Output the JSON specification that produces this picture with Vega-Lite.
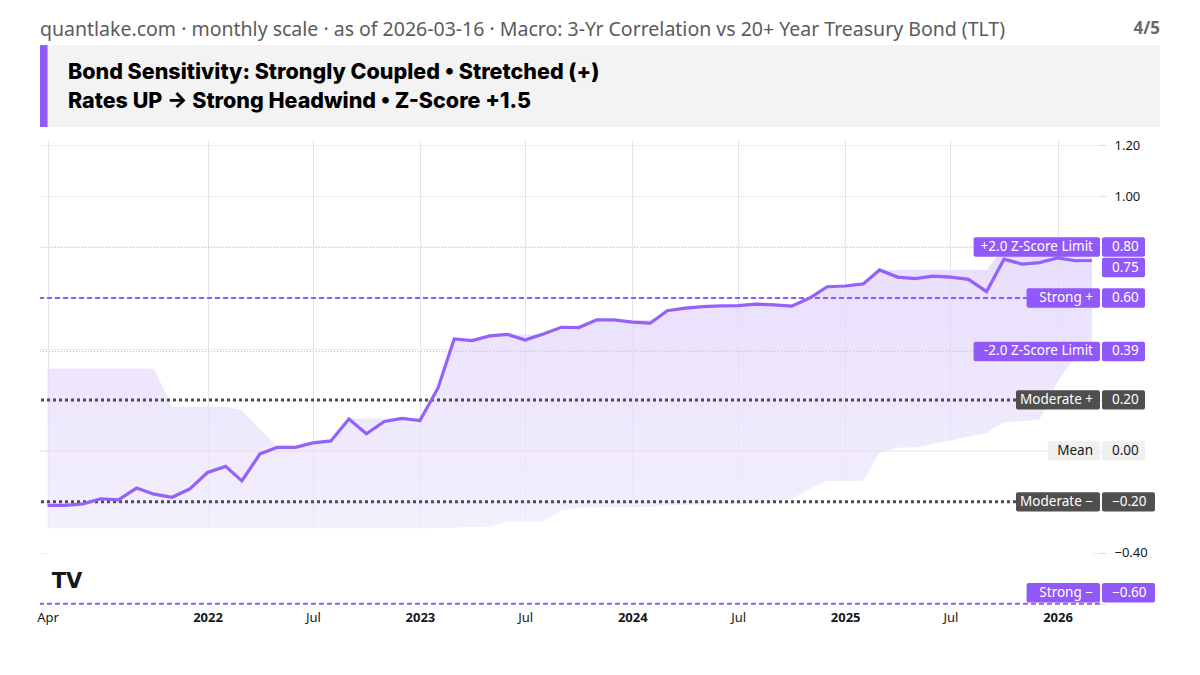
{
  "$schema": "https://vega.github.io/schema/vega-lite/v6.json",
  "width": 1060,
  "height": 465,
  "autosize": {"type": "none"},
  "padding": {"left": 40, "top": 140, "right": 100, "bottom": 70},
  "background": "#ffffff",
  "config": {"view": {"stroke": null}, "font": "Noto Sans"},
  "datasets": {
    "levels": [
      {"label": "+2.0 Z-Score Limit", "v": 0.80, "kind": "zlimit"},
      {"label": "Strong +", "v": 0.60, "kind": "strong"},
      {"label": "-2.0 Z-Score Limit", "v": 0.39, "kind": "zlimit"},
      {"label": "Moderate +", "v": 0.20, "kind": "moderate"},
      {"label": "Mean", "v": 0.00, "kind": "mean"},
      {"label": "Moderate −", "v": -0.20, "kind": "moderate"},
      {"label": "Strong −", "v": -0.60, "kind": "strong"}
    ]
  },
  "data": {
    "values": [
      {"d": "2021-04-01", "c": -0.214, "hi": 0.322, "lo": -0.305},
      {"d": "2021-05-01", "c": -0.214, "hi": 0.322, "lo": -0.305},
      {"d": "2021-06-01", "c": -0.208, "hi": 0.322, "lo": -0.305},
      {"d": "2021-07-01", "c": -0.188, "hi": 0.322, "lo": -0.305},
      {"d": "2021-08-01", "c": -0.192, "hi": 0.322, "lo": -0.305},
      {"d": "2021-09-01", "c": -0.146, "hi": 0.322, "lo": -0.305},
      {"d": "2021-10-01", "c": -0.170, "hi": 0.322, "lo": -0.305},
      {"d": "2021-11-01", "c": -0.182, "hi": 0.173, "lo": -0.305},
      {"d": "2021-12-01", "c": -0.150, "hi": 0.173, "lo": -0.305},
      {"d": "2022-01-01", "c": -0.085, "hi": 0.173, "lo": -0.305},
      {"d": "2022-02-01", "c": -0.061, "hi": 0.173, "lo": -0.305},
      {"d": "2022-03-01", "c": -0.118, "hi": 0.159, "lo": -0.305},
      {"d": "2022-04-01", "c": -0.012, "hi": 0.085, "lo": -0.305},
      {"d": "2022-05-01", "c": 0.014, "hi": 0.016, "lo": -0.305},
      {"d": "2022-06-01", "c": 0.014, "hi": 0.016, "lo": -0.305},
      {"d": "2022-07-01", "c": 0.031, "hi": 0.031, "lo": -0.305},
      {"d": "2022-08-01", "c": 0.039, "hi": 0.039, "lo": -0.305},
      {"d": "2022-09-01", "c": 0.125, "hi": 0.127, "lo": -0.305},
      {"d": "2022-10-01", "c": 0.067, "hi": 0.127, "lo": -0.305},
      {"d": "2022-11-01", "c": 0.115, "hi": 0.127, "lo": -0.305},
      {"d": "2022-12-01", "c": 0.127, "hi": 0.127, "lo": -0.305},
      {"d": "2023-01-01", "c": 0.119, "hi": 0.127, "lo": -0.305},
      {"d": "2023-02-01", "c": 0.246, "hi": 0.246, "lo": -0.304},
      {"d": "2023-03-01", "c": 0.439, "hi": 0.439, "lo": -0.302},
      {"d": "2023-04-01", "c": 0.433, "hi": 0.439, "lo": -0.300},
      {"d": "2023-05-01", "c": 0.451, "hi": 0.451, "lo": -0.298},
      {"d": "2023-06-01", "c": 0.457, "hi": 0.457, "lo": -0.278},
      {"d": "2023-07-01", "c": 0.435, "hi": 0.457, "lo": -0.278},
      {"d": "2023-08-01", "c": 0.459, "hi": 0.459, "lo": -0.278},
      {"d": "2023-09-01", "c": 0.485, "hi": 0.485, "lo": -0.234},
      {"d": "2023-10-01", "c": 0.484, "hi": 0.485, "lo": -0.224},
      {"d": "2023-11-01", "c": 0.514, "hi": 0.514, "lo": -0.222},
      {"d": "2023-12-01", "c": 0.514, "hi": 0.514, "lo": -0.222},
      {"d": "2024-01-01", "c": 0.505, "hi": 0.514, "lo": -0.222},
      {"d": "2024-02-01", "c": 0.501, "hi": 0.514, "lo": -0.221},
      {"d": "2024-03-01", "c": 0.550, "hi": 0.550, "lo": -0.215},
      {"d": "2024-04-01", "c": 0.560, "hi": 0.560, "lo": -0.213},
      {"d": "2024-05-01", "c": 0.566, "hi": 0.566, "lo": -0.212},
      {"d": "2024-06-01", "c": 0.569, "hi": 0.569, "lo": -0.211},
      {"d": "2024-07-01", "c": 0.570, "hi": 0.570, "lo": -0.209},
      {"d": "2024-08-01", "c": 0.576, "hi": 0.576, "lo": -0.205},
      {"d": "2024-09-01", "c": 0.573, "hi": 0.576, "lo": -0.199},
      {"d": "2024-10-01", "c": 0.568, "hi": 0.576, "lo": -0.190},
      {"d": "2024-11-01", "c": 0.600, "hi": 0.600, "lo": -0.150},
      {"d": "2024-12-01", "c": 0.644, "hi": 0.644, "lo": -0.118},
      {"d": "2025-01-01", "c": 0.647, "hi": 0.647, "lo": -0.118},
      {"d": "2025-02-01", "c": 0.655, "hi": 0.655, "lo": -0.118},
      {"d": "2025-03-01", "c": 0.710, "hi": 0.710, "lo": -0.008},
      {"d": "2025-04-01", "c": 0.682, "hi": 0.710, "lo": 0.012},
      {"d": "2025-05-01", "c": 0.676, "hi": 0.710, "lo": 0.012},
      {"d": "2025-06-01", "c": 0.686, "hi": 0.710, "lo": 0.027},
      {"d": "2025-07-01", "c": 0.682, "hi": 0.710, "lo": 0.040},
      {"d": "2025-08-01", "c": 0.673, "hi": 0.710, "lo": 0.055},
      {"d": "2025-09-01", "c": 0.625, "hi": 0.710, "lo": 0.069},
      {"d": "2025-10-01", "c": 0.752, "hi": 0.800, "lo": 0.112},
      {"d": "2025-11-01", "c": 0.733, "hi": 0.800, "lo": 0.116},
      {"d": "2025-12-01", "c": 0.739, "hi": 0.800, "lo": 0.120},
      {"d": "2026-01-01", "c": 0.757, "hi": 0.800, "lo": 0.270},
      {"d": "2026-02-01", "c": 0.746, "hi": 0.800, "lo": 0.370},
      {"d": "2026-03-01", "c": 0.747, "hi": 0.800, "lo": 0.390}
    ]
  },
  "layer": [
    {
      "mark": {
        "type": "area",
        "fill": {"gradient": "linear", "x1": 0, "y1": 0, "x2": 0, "y2": 1,
          "stops": [{"offset": 0, "color": "#e0d3fb"}, {"offset": 1, "color": "#efeafc"}]},
        "fillOpacity": 0.75
      },
      "encoding": {
        "x": {
          "field": "d", "type": "temporal",
          "scale": {"type": "utc", "nice": false,
            "domain": [{"year": 2021, "month": 3, "date": 19, "utc": true}, {"year": 2026, "month": 3, "date": 15, "utc": true}]},
          "axis": {
            "title": null, "orient": "bottom", "domain": false, "ticks": false, "grid": true,
            "gridColor": "#e4e2ea", "gridWidth": 1,
            "values": [
              {"year": 2021, "month": 4, "date": 1, "utc": true},
              {"year": 2022, "month": 1, "date": 1, "utc": true},
              {"year": 2022, "month": 7, "date": 1, "utc": true},
              {"year": 2023, "month": 1, "date": 1, "utc": true},
              {"year": 2023, "month": 7, "date": 1, "utc": true},
              {"year": 2024, "month": 1, "date": 1, "utc": true},
              {"year": 2024, "month": 7, "date": 1, "utc": true},
              {"year": 2025, "month": 1, "date": 1, "utc": true},
              {"year": 2025, "month": 7, "date": 1, "utc": true},
              {"year": 2026, "month": 1, "date": 1, "utc": true}
            ],
            "labelExpr": "utcFormat(datum.value, '%m') == '01' ? utcFormat(datum.value, '%Y') : utcFormat(datum.value, '%b')",
            "labelFontWeight": {"condition": {"test": "utcFormat(datum.value, '%m') == '01'", "value": "bold"}, "value": "normal"},
            "labelFont": "Noto Sans", "labelFontSize": 13, "labelColor": "#131722",
            "labelPadding": 6, "labelFlush": false, "labelOverlap": false
          }
        },
        "y": {
          "field": "lo", "type": "quantitative",
          "scale": {"domain": [-0.605, 1.22], "nice": false, "zero": false},
          "axis": {
            "title": null, "orient": "right", "domain": false, "ticks": true, "tickSize": 6,
            "tickColor": "#dcdcdc", "grid": true, "gridColor": "#eeeeee",
            "values": [1.2, 1.0, 0.8, 0.6, 0.4, 0.2, 0, -0.2, -0.4, -0.6],
            "labelExpr": "(datum.value > 0.9 || abs(datum.value + 0.4) < 0.01) ? format(datum.value, '.2f') : ''",
            "labelFont": "Noto Sans", "labelFontSize": 13, "labelColor": "#131722",
            "labelPadding": 8, "labelFlush": false, "labelOverlap": false, "labelBound": false
          }
        },
        "y2": {"field": "hi"}
      }
    },
    {
      "mark": {"type": "area", "fill": "#ffffff"},
      "encoding": {
        "x": {"field": "d", "type": "temporal"},
        "y": {"field": "lo", "type": "quantitative"},
        "y2": {"datum": -0.605}
      }
    },
    {
      "data": {"name": "levels"},
      "transform": [{"filter": "datum.kind == 'mean'"}],
      "mark": {"type": "rule", "color": "#e4e4e4", "strokeWidth": 1},
      "encoding": {"y": {"field": "v", "type": "quantitative"}}
    },
    {
      "data": {"name": "levels"},
      "transform": [{"filter": "datum.kind == 'zlimit'"}],
      "mark": {"type": "rule", "color": "#c3bad9", "strokeWidth": 1, "strokeDash": [1, 2]},
      "encoding": {"y": {"field": "v", "type": "quantitative"}}
    },
    {
      "data": {"name": "levels"},
      "transform": [{"filter": "datum.kind == 'moderate'"}],
      "mark": {"type": "rule", "color": "#4d4d4d", "strokeWidth": 3, "strokeDash": [3, 3]},
      "encoding": {"y": {"field": "v", "type": "quantitative"}}
    },
    {
      "data": {"name": "levels"},
      "transform": [{"filter": "datum.kind == 'strong'"}],
      "mark": {"type": "rule", "color": "#9159f9", "strokeWidth": 2, "strokeDash": [5, 3]},
      "encoding": {"y": {"field": "v", "type": "quantitative"}}
    },
    {
      "mark": {"type": "line", "color": "#9461f9", "strokeWidth": 3.2},
      "encoding": {
        "x": {"field": "d", "type": "temporal"},
        "y": {"field": "c", "type": "quantitative"}
      }
    },
    {
      "data": {"values": [{"t": "TV"}]},
      "mark": {"type": "text", "font": "DejaVu Sans", "fontSize": 21, "fontWeight": "bold", "color": "#131722", "align": "left", "baseline": "middle"},
      "encoding": {
        "x": {"datum": {"year": 2021, "month": 4, "date": 8, "utc": true}, "type": "temporal"},
        "y": {"datum": -0.513, "type": "quantitative"},
        "text": {"field": "t"}
      }
    },
    {
      "data": {"name": "levels"},
      "transform": [
        {"calculate": "datum.v < -0.5 ? -0.557 : datum.v", "as": "yp"},
        {"calculate": "datum.yp - 0.038", "as": "y0"},
        {"calculate": "datum.yp + 0.038", "as": "y1"},
        {"calculate": "format(datum.v, '.2f')", "as": "vt"},
        {"calculate": "utc(2026, 2, 15) - (5.3 * length(datum.label) + 31) * 148510189", "as": "lx"},
        {"calculate": "utc(2026, 2, 15)", "as": "lx2"},
        {"calculate": "utc(2026, 2, 15) - 7 * 148510189", "as": "ltx"},
        {"calculate": "utc(2026, 2, 15) + 2 * 148510189", "as": "vx"},
        {"calculate": "utc(2026, 2, 15) + (10 * length(datum.vt) + 5) * 148510189", "as": "vx2"},
        {"calculate": "utc(2026, 2, 15) + 12 * 148510189", "as": "vtx"}
      ],
      "layer": [
        {
          "mark": {"type": "rect", "cornerRadius": 2},
          "encoding": {
            "x": {"field": "lx", "type": "temporal"},
            "x2": {"field": "lx2"},
            "y": {"field": "y0", "type": "quantitative"},
            "y2": {"field": "y1"},
            "fill": {"field": "kind", "type": "nominal", "legend": null,
              "scale": {"domain": ["zlimit", "strong", "moderate", "mean"], "range": ["#9159f9", "#9159f9", "#4f4f4f", "#f0f0f0"]}}
          }
        },
        {
          "mark": {"type": "rect", "cornerRadius": 2},
          "encoding": {
            "x": {"field": "vx", "type": "temporal"},
            "x2": {"field": "vx2"},
            "y": {"field": "y0", "type": "quantitative"},
            "y2": {"field": "y1"},
            "fill": {"field": "kind", "type": "nominal", "legend": null}
          }
        },
        {
          "mark": {"type": "text", "align": "right", "baseline": "middle", "fontSize": 13.5, "font": "Noto Sans"},
          "encoding": {
            "x": {"field": "ltx", "type": "temporal"},
            "y": {"field": "yp", "type": "quantitative"},
            "text": {"field": "label"},
            "color": {"condition": {"test": "datum.kind == 'mean'", "value": "#131722"}, "value": "#ffffff"}
          }
        },
        {
          "mark": {"type": "text", "align": "left", "baseline": "middle", "fontSize": 13.5, "font": "Noto Sans"},
          "encoding": {
            "x": {"field": "vtx", "type": "temporal"},
            "y": {"field": "yp", "type": "quantitative"},
            "text": {"field": "vt"},
            "color": {"condition": {"test": "datum.kind == 'mean'", "value": "#131722"}, "value": "#ffffff"}
          }
        }
      ]
    },
    {
      "transform": [
        {"window": [{"op": "row_number", "as": "rn"}], "sort": [{"field": "d", "order": "descending"}]},
        {"filter": "datum.rn == 1"},
        {"calculate": "datum.c - 0.038", "as": "y0"},
        {"calculate": "datum.c + 0.038", "as": "y1"},
        {"calculate": "format(datum.c, '.2f')", "as": "vt"},
        {"calculate": "utc(2026, 2, 15) + 2 * 148510189", "as": "vx"},
        {"calculate": "utc(2026, 2, 15) + (10 * length(datum.vt) + 5) * 148510189", "as": "vx2"},
        {"calculate": "utc(2026, 2, 15) + 12 * 148510189", "as": "vtx"}
      ],
      "layer": [
        {
          "mark": {"type": "rect", "cornerRadius": 2, "color": "#9159f9", "yOffset": 7, "y2Offset": 7},
          "encoding": {
            "x": {"field": "vx", "type": "temporal"},
            "x2": {"field": "vx2"},
            "y": {"field": "y0", "type": "quantitative"},
            "y2": {"field": "y1"}
          }
        },
        {
          "mark": {"type": "text", "align": "left", "baseline": "middle", "fontSize": 13.5, "font": "Noto Sans", "color": "#ffffff", "yOffset": 7},
          "encoding": {
            "x": {"field": "vtx", "type": "temporal"},
            "y": {"field": "c", "type": "quantitative"},
            "text": {"field": "vt"}
          }
        }
      ]
    },
    {
      "data": {"values": [{}]},
      "mark": {"type": "rect", "color": "#f3f3f3"},
      "encoding": {
        "x": {"datum": {"year": 2021, "month": 3, "date": 19, "utc": true}, "type": "temporal"},
        "x2": {"datum": {"year": 2026, "month": 6, "date": 26, "utc": true}},
        "y": {"datum": 1.5925, "type": "quantitative"},
        "y2": {"datum": 1.271}
      }
    },
    {
      "data": {"values": [{}]},
      "mark": {"type": "rect", "color": "#9159f9"},
      "encoding": {
        "x": {"datum": {"year": 2021, "month": 3, "date": 19, "utc": true}, "type": "temporal"},
        "x2": {"datum": {"year": 2021, "month": 4, "date": 1, "utc": true}},
        "y": {"datum": 1.5925, "type": "quantitative"},
        "y2": {"datum": 1.271}
      }
    },
    {
      "data": {"values": [{"t": "Bond Sensitivity: Strongly Coupled • Stretched (+)", "row": 1.4827}, {"t": "Rates UP → Strong Headwind • Z-Score +1.5", "row": 1.369}]},
      "mark": {"type": "text", "align": "left", "baseline": "middle", "font": "Inter", "fontSize": 21.5, "fontWeight": 800, "color": "#000000"},
      "encoding": {
        "x": {"datum": {"year": 2021, "month": 5, "date": 6, "utc": true}, "type": "temporal"},
        "y": {"field": "row", "type": "quantitative"},
        "text": {"field": "t"}
      }
    },
    {
      "data": {"values": [{"t": "quantlake.com · monthly scale · as of 2026-03-16 · Macro: 3-Yr Correlation vs 20+ Year Treasury Bond (TLT)"}]},
      "mark": {"type": "text", "align": "left", "baseline": "middle", "font": "Noto Sans", "fontSize": 19.5, "color": "#5b5b5b"},
      "encoding": {
        "x": {"datum": {"year": 2021, "month": 3, "date": 19, "utc": true}, "type": "temporal"},
        "y": {"datum": 1.651, "type": "quantitative"},
        "text": {"field": "t"}
      }
    },
    {
      "data": {"values": [{"t": "4/5"}]},
      "mark": {"type": "text", "align": "right", "baseline": "middle", "font": "Noto Sans", "fontSize": 17, "fontWeight": "bold", "color": "#6a6a6a"},
      "encoding": {
        "x": {"datum": {"year": 2026, "month": 6, "date": 26, "utc": true}, "type": "temporal"},
        "y": {"datum": 1.655, "type": "quantitative"},
        "text": {"field": "t"}
      }
    }
  ]
}
